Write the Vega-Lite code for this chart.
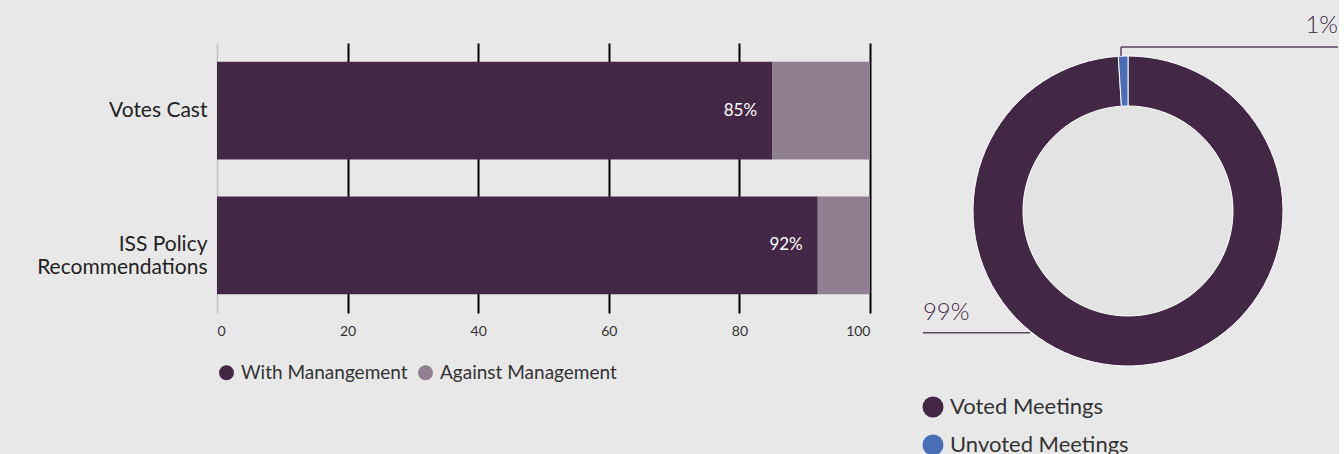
{
  "$schema": "https://vega.github.io/schema/vega-lite/v6.json",
  "background": "#e8e8e8",
  "padding": {"left": 36, "top": 14, "right": 0, "bottom": 0},
  "config": {
    "font": "Lato",
    "view": {"stroke": null},
    "concat": {"spacing": 52}
  },
  "resolve": {"scale": {"color": "independent"}, "legend": {"color": "independent"}},
  "hconcat": [
    {
      "width": 653,
      "height": 270,
      "data": {
        "values": [
          {"category": "Votes Cast", "series": "With Manangement", "value": 85, "ord": 1, "label": "85%"},
          {"category": "Votes Cast", "series": "Against Management", "value": 15, "ord": 2, "label": "15%"},
          {"category": "ISS Policy Recommendations", "series": "With Manangement", "value": 92, "ord": 1, "label": "92%"},
          {"category": "ISS Policy Recommendations", "series": "Against Management", "value": 8, "ord": 2, "label": "8%"}
        ]
      },
      "layer": [
        {
          "mark": {"type": "bar"},
          "encoding": {
            "y": {
              "field": "category", "type": "nominal",
              "sort": ["Votes Cast", "ISS Policy Recommendations"],
              "scale": {"paddingInner": 0.274, "paddingOuter": 0.14},
              "axis": {
                "title": null, "domain": false, "ticks": false,
                "labelFontSize": 21, "labelColor": "#222222", "labelPadding": 10,
                "labelLineHeight": 23, "labelLimit": 400,
                "labelExpr": "datum.label == 'ISS Policy Recommendations' ? ['ISS Policy', 'Recommendations'] : datum.label"
              }
            },
            "x": {
              "field": "value", "type": "quantitative", "stack": "zero",
              "scale": {"domain": [0, 100], "nice": false},
              "axis": {
                "title": null, "values": [0, 20, 40, 60, 80, 100],
                "domain": false, "ticks": false, "grid": true,
                "gridColor": {"condition": {"test": "datum.value === 0", "value": "#c7bfcc"}, "value": "#000000"},
                "gridWidth": {"condition": {"test": "datum.value === 0", "value": 1.5}, "value": 2},
                "gridOpacity": 1,
                "labelFontSize": 14, "labelColor": "#333333", "labelPadding": 11
              }
            },
            "color": {
              "field": "series", "type": "nominal",
              "scale": {"domain": ["With Manangement", "Against Management"], "range": ["#432846", "#8f7f91"]},
              "legend": {
                "orient": "bottom", "direction": "horizontal", "title": null,
                "symbolType": "circle", "symbolSize": 225, "symbolStrokeWidth": 0,
                "labelFontSize": 19, "labelColor": "#333333", "labelOffset": 5, "labelLimit": 400,
                "columnPadding": 8, "offset": 25
              }
            },
            "order": {"field": "ord", "type": "quantitative"}
          }
        },
        {
          "transform": [{"filter": "datum.series == 'With Manangement'"}],
          "mark": {"type": "text", "align": "right", "baseline": "middle", "dx": -15, "color": "#ffffff", "fontSize": 17},
          "encoding": {
            "y": {"field": "category", "type": "nominal", "sort": ["Votes Cast", "ISS Policy Recommendations"]},
            "x": {"field": "value", "type": "quantitative"},
            "text": {"field": "label"}
          }
        }
      ]
    },
    {
      "width": 412,
      "height": 336,
      "layer": [
        {
          "data": {"values": [{"v": 1}]},
          "mark": {"type": "point", "shape": "circle", "filled": true, "size": 44100, "color": "#e3e3e3", "opacity": 1, "strokeWidth": 0},
          "encoding": {}
        },
        {
          "data": {
            "values": [
              {"status": "Voted Meetings", "value": 99, "ord": 1},
              {"status": "Unvoted Meetings", "value": 1, "ord": 2}
            ]
          },
          "mark": {"type": "arc", "innerRadius": 105, "outerRadius": 155, "stroke": "#ffffff", "strokeWidth": 1},
          "encoding": {
            "theta": {"field": "value", "type": "quantitative", "stack": true},
            "order": {"field": "ord", "type": "quantitative"},
            "color": {
              "field": "status", "type": "nominal",
              "scale": {"domain": ["Voted Meetings", "Unvoted Meetings"], "range": ["#432846", "#4a6db8"]},
              "legend": {
                "orient": "bottom", "direction": "vertical", "title": null,
                "symbolType": "circle", "symbolSize": 441, "symbolStrokeWidth": 0,
                "labelFontSize": 22, "labelColor": "#333333", "labelOffset": 6, "labelLimit": 400,
                "rowPadding": 16, "offset": 17
              }
            }
          }
        },
        {
          "data": {
            "values": [
              {"x": -0.045, "y": 1.058, "x2": 1.355, "y2": 1.058},
              {"x": -0.045, "y": 1.058, "x2": -0.045, "y2": 1.0},
              {"x": -1.323, "y": -0.785, "x2": -0.632, "y2": -0.785}
            ]
          },
          "mark": {"type": "rule", "color": "#5b4560", "strokeWidth": 1.5},
          "encoding": {
            "x": {"field": "x", "type": "quantitative", "scale": {"domain": [-1.329, 1.329], "nice": false, "zero": false}, "axis": null},
            "y": {"field": "y", "type": "quantitative", "scale": {"domain": [-1.084, 1.084], "nice": false, "zero": false}, "axis": null},
            "x2": {"field": "x2"},
            "y2": {"field": "y2"}
          }
        },
        {
          "data": {"values": [{"x": 1.355, "y": 1.148, "text": "1%"}]},
          "mark": {"type": "text", "fontSize": 24, "fontWeight": 300, "align": "right", "baseline": "alphabetic", "color": "#3a2a40"},
          "encoding": {
            "x": {"field": "x", "type": "quantitative"},
            "y": {"field": "y", "type": "quantitative"},
            "text": {"field": "text"}
          }
        },
        {
          "data": {"values": [{"x": -1.323, "y": -0.703, "text": "99%"}]},
          "mark": {"type": "text", "fontSize": 24, "fontWeight": 300, "align": "left", "baseline": "alphabetic", "color": "#3f2845"},
          "encoding": {
            "x": {"field": "x", "type": "quantitative"},
            "y": {"field": "y", "type": "quantitative"},
            "text": {"field": "text"}
          }
        }
      ]
    }
  ]
}
